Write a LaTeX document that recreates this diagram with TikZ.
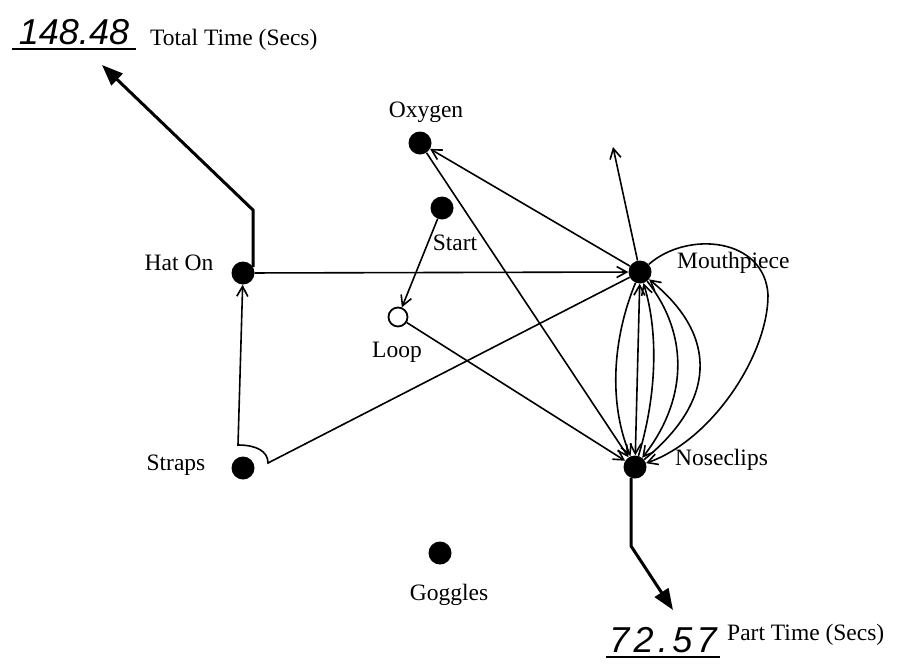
\documentclass[tikz,border=0pt]{standalone}
\usepackage{fontspec}
\setmainfont{Liberation Serif}
\newfontfamily\handfont{Liberation Sans}
\usetikzlibrary{arrows.meta,calc}
\begin{document}
\begin{tikzpicture}[x=1pt,y=-1pt,
  dot/.style={circle,fill=black,minimum size=23pt,inner sep=0pt},
  ring/.style={circle,draw=black,line width=1.8pt,minimum size=19pt,inner sep=0pt},
  lbl/.style={font=\fontsize{23.5}{25}\selectfont,inner sep=0pt},
  hand/.style={font=\handfont\itshape\fontsize{36}{38}\selectfont,inner sep=0pt},
  conn/.style={line width=1.6pt},
  arr/.style={conn,-{Straight Barb[length=10pt,width=11pt]}},
  darr/.style={conn,{Straight Barb[length=10pt,width=11pt]}-{Straight Barb[length=10pt,width=11pt]}},
  bigarr/.style={line width=3pt,-{Triangle[length=21pt,width=16pt]}}]
\useasboundingbox (0,0) rectangle (902,664);

% nodes
\node[dot] (oxy) at (420,143) {};
\node[dot] (start) at (442,208) {};
\node[dot] (hat) at (243,273) {};
\node[ring] (loop) at (398,317) {};
\node[dot] (mouth) at (640,272) {};
\node[dot] (straps) at (243,468) {};
\node[dot] (nose) at (635,467) {};
\node[dot] (gog) at (440,553) {};

% labels
\node[lbl] (loxy) at (426,112) {Oxygen};
\node[lbl] (lstart) at (455,243) {Start};
\node[lbl] (lhat) at (179,263) {Hat On};
\node[lbl] (lloop) at (397,352) {Loop};
\node[lbl,anchor=west] (lmouth) at (677,263) {Mouthpiece};
\node[lbl] (lstraps) at (176,465) {Straps};
\node[lbl,anchor=west] (lnose) at (675,460) {Noseclips};
\node[lbl] (lgog) at (449,595) {Goggles};
\node[lbl,anchor=west] (ltot) at (150,40) {Total Time (Secs)};
\node[lbl,anchor=west] (lpart) at (727,635) {Part Time (Secs)};

\node[hand,minimum width=123pt] (htot) at (74,32) {148.48};
\draw[line width=1.5pt] ($(htot.south west)+(0,4)$) -- ($(htot.south east)+(0,4)$);
\node[hand,minimum width=113pt] (hpart) at (663,640) {\addfontfeature{LetterSpace=12}72.57};
\draw[line width=1.5pt] ($(hpart.south west)+(0,4)$) -- ($(hpart.south east)+(0,4)$);

% coordinates
\coordinate (uptip) at (613,147);
\coordinate (sh1) at (268,463);
\coordinate (sh2) at (238,445);
\coordinate (tottip) at (102,65);
\coordinate (parttip) at (673,610);

% connectors
\draw[arr] (start) -- (loop);
\draw[arr] (loop) -- (nose);
\draw[arr] (hat) -- (mouth);
\draw[arr] (mouth) -- (oxy);
\draw[arr] (oxy) -- (nose);
\draw[arr] (mouth) -- (uptip);
\draw[arr] (mouth) -- (sh1) .. controls +(0,-12) and +(18,0) .. (sh2) -- (hat);

\draw[arr] (mouth) .. controls +(-27,65) and +(-27,-65) .. (nose);
\draw[darr] (mouth) -- (nose);
\draw[arr] (nose) .. controls +(20,-65) and +(20,65) .. (mouth);
\draw[arr] (mouth) .. controls +(51,65) and +(51,-65) .. (nose);
\draw[arr] (nose) .. controls +(80,-65) and +(80,65) .. (mouth);
\draw[arr] (mouth) .. controls (688,230) and (765,238) .. (768,295)
  .. controls (768,355) and (712,440) .. (nose);

% thick output arrows
\draw[bigarr] (hat.30) -- ++(0,-57) -- (tottip);
\draw[bigarr] (nose.250) -- ++(0,68) -- (parttip);
\end{tikzpicture}
\end{document}
